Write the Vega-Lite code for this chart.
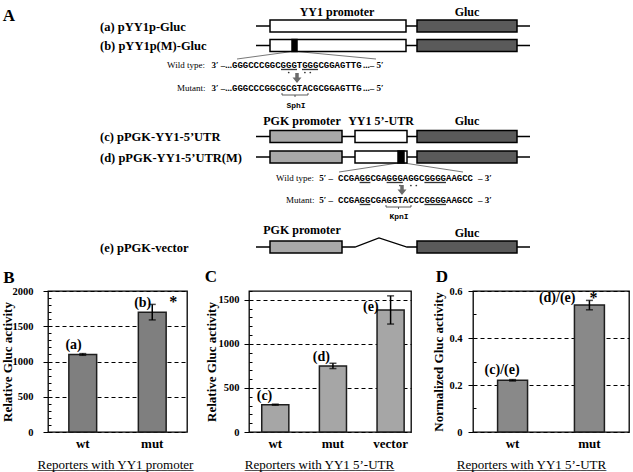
{
  "$schema": "https://vega.github.io/schema/vega-lite/v6.json",
  "background": "white",
  "padding": {"left": 0, "top": 0, "right": 0, "bottom": 0},
  "bounds": "flush",
  "spacing": 11,
  "config": {
    "font": "Liberation Serif",
    "view": {"stroke": "black", "strokeWidth": 1.3},
    "axis": {
      "labelFont": "Liberation Serif",
      "titleFont": "Liberation Serif",
      "labelColor": "black",
      "titleColor": "black",
      "labelFontWeight": "bold",
      "titleFontWeight": "bold",
      "tickColor": "black",
      "domain": false
    },
    "text": {"font": "Liberation Serif", "color": "black"}
  },
  "datasets": {
    "backbone": [
      {"construct": "a", "step": 1, "x": 256, "y": 26},
      {"construct": "a", "step": 2, "x": 530, "y": 26},
      {"construct": "b", "step": 1, "x": 256, "y": 45.5},
      {"construct": "b", "step": 2, "x": 530, "y": 45.5},
      {"construct": "c", "step": 1, "x": 256, "y": 136.5},
      {"construct": "c", "step": 2, "x": 530, "y": 136.5},
      {"construct": "d", "step": 1, "x": 256, "y": 157},
      {"construct": "d", "step": 2, "x": 530, "y": 157},
      {"construct": "e", "step": 1, "x": 256, "y": 247},
      {"construct": "e", "step": 2, "x": 355, "y": 247},
      {"construct": "e", "step": 3, "x": 379, "y": 238},
      {"construct": "e", "step": 4, "x": 407, "y": 247},
      {"construct": "e", "step": 5, "x": 530, "y": 247}
    ],
    "parts": [
      {"construct": "a", "part": "YY1 promoter", "x": 270, "x2": 406, "y": 20, "y2": 32},
      {"construct": "a", "part": "Gluc", "x": 417, "x2": 517, "y": 20, "y2": 32},
      {"construct": "b", "part": "YY1 promoter", "x": 270, "x2": 406, "y": 39.5, "y2": 51.5},
      {"construct": "b", "part": "mutation", "x": 292, "x2": 297, "y": 39.5, "y2": 51.5},
      {"construct": "b", "part": "Gluc", "x": 417, "x2": 517, "y": 39.5, "y2": 51.5},
      {"construct": "c", "part": "PGK promoter", "x": 270, "x2": 342, "y": 130.5, "y2": 142.5},
      {"construct": "c", "part": "YY1 5'-UTR", "x": 355, "x2": 407, "y": 130.5, "y2": 142.5},
      {"construct": "c", "part": "Gluc", "x": 417, "x2": 517, "y": 130.5, "y2": 142.5},
      {"construct": "d", "part": "PGK promoter", "x": 270, "x2": 342, "y": 151, "y2": 163},
      {"construct": "d", "part": "YY1 5'-UTR", "x": 355, "x2": 407, "y": 151, "y2": 163},
      {"construct": "d", "part": "mutation", "x": 398, "x2": 404, "y": 151, "y2": 163},
      {"construct": "d", "part": "Gluc", "x": 417, "x2": 517, "y": 151, "y2": 163},
      {"construct": "e", "part": "PGK promoter", "x": 270, "x2": 342, "y": 241, "y2": 253},
      {"construct": "e", "part": "Gluc", "x": 417, "x2": 517, "y": 241, "y2": 253}
    ],
    "links": [
      {"x": 292, "y": 51.5, "x2": 237, "y2": 59},
      {"x": 297, "y": 51.5, "x2": 376, "y2": 59},
      {"x": 398, "y": 163, "x2": 339, "y2": 172},
      {"x": 404, "y": 163, "x2": 463, "y2": 172}
    ],
    "motifs": [
      {"x": 281, "x2": 297, "y": 69.5},
      {"x": 302, "x2": 318, "y": 69.5},
      {"x": 359.6, "x2": 370.4, "y": 182.5},
      {"x": 386.6, "x2": 402.8, "y": 182.5},
      {"x": 424.4, "x2": 446, "y": 182.5},
      {"x": 359.6, "x2": 370.4, "y": 204.5},
      {"x": 424.4, "x2": 446, "y": 204.5}
    ],
    "changedBases": [
      {"x": 288.7, "y": 72.5},
      {"x": 304.9, "y": 72.5},
      {"x": 310.3, "y": 72.5},
      {"x": 400, "y": 185.5},
      {"x": 410.9, "y": 185.5},
      {"x": 416.3, "y": 185.5}
    ],
    "arrows": [
      {"site": "SphI", "x": 297, "y": 78},
      {"site": "KpnI", "x": 402, "y": 190}
    ],
    "brackets": [
      {"x": 282, "y": 95, "x2": 308, "y2": 95},
      {"x": 282, "y": 93, "x2": 282, "y2": 95},
      {"x": 308, "y": 93, "x2": 308, "y2": 95},
      {"x": 295, "y": 95, "x2": 295, "y2": 97},
      {"x": 386, "y": 207, "x2": 411, "y2": 207},
      {"x": 386, "y": 205, "x2": 386, "y2": 207},
      {"x": 411, "y": 205, "x2": 411, "y2": 207},
      {"x": 398.5, "y": 207, "x2": 398.5, "y2": 209}
    ],
    "texts": [
      {"kind": "panel", "text": "A", "x": 9, "y": 16},
      {"kind": "panel", "text": "B", "x": 9, "y": 278},
      {"kind": "panel", "text": "C", "x": 211, "y": 277},
      {"kind": "panel", "text": "D", "x": 442, "y": 277},
      {"kind": "construct", "text": "(a) pYY1p-Gluc", "x": 100, "y": 27},
      {"kind": "construct", "text": "(b) pYY1p(M)-Gluc", "x": 100, "y": 46},
      {"kind": "construct", "text": "(c) pPGK-YY1-5’UTR", "x": 100, "y": 137},
      {"kind": "construct", "text": "(d) pPGK-YY1-5’UTR(M)", "x": 100, "y": 158},
      {"kind": "construct", "text": "(e) pPGK-vector", "x": 100, "y": 248},
      {"kind": "header", "text": "YY1 promoter", "x": 337, "y": 12},
      {"kind": "header", "text": "Gluc", "x": 467, "y": 12},
      {"kind": "header", "text": "PGK promoter", "x": 302, "y": 121},
      {"kind": "header", "text": "YY1 5’-UTR", "x": 381, "y": 121},
      {"kind": "header", "text": "Gluc", "x": 467, "y": 121},
      {"kind": "header", "text": "PGK promoter", "x": 302, "y": 230},
      {"kind": "header", "text": "Gluc", "x": 467, "y": 233},
      {"kind": "seqlabel", "text": "Wild type:", "x": 167, "y": 65},
      {"kind": "seqlabel", "text": "Mutant:", "x": 177, "y": 88},
      {"kind": "seqlabel", "text": "Wild type:", "x": 276, "y": 178},
      {"kind": "seqlabel", "text": "Mutant:", "x": 286, "y": 200},
      {"kind": "seqpre", "text": "3′ –...", "x": 232, "y": 65},
      {"kind": "seqpre", "text": "3′ –...", "x": 232, "y": 88},
      {"kind": "seqpre", "text": "5′ –", "x": 333, "y": 178},
      {"kind": "seqpre", "text": "5′ –", "x": 333, "y": 200},
      {"kind": "seq", "text": "GGGCCCGGCGGGTGGGCGGAGTTG", "x": 232, "y": 65},
      {"kind": "seq", "text": "GGGCCCGGCGCGTACGCGGAGTTG", "x": 232, "y": 88},
      {"kind": "seq", "text": "CCGAGGCGAGGGAGGCGGGGAAGCC", "x": 338, "y": 178},
      {"kind": "seq", "text": "CCGAGGCGAGGTACCCGGGGAAGCC", "x": 338, "y": 200},
      {"kind": "seqpost", "text": "...– 5′", "x": 363, "y": 65},
      {"kind": "seqpost", "text": "...– 5′", "x": 363, "y": 88},
      {"kind": "seqpost", "text": "– 3′", "x": 478, "y": 178},
      {"kind": "seqpost", "text": "– 3′", "x": 478, "y": 200},
      {"kind": "site", "text": "SphI", "x": 296, "y": 106},
      {"kind": "site", "text": "KpnI", "x": 399, "y": 217}
    ],
    "promoterReporters": [
      {"reporter": "wt", "activity": 1100, "err": 12, "label": "(a)"},
      {"reporter": "mut", "activity": 1700, "err": 110, "label": "(b)", "sig": "*"}
    ],
    "utrReporters": [
      {"reporter": "wt", "activity": 310, "err": 6, "label": "(c)"},
      {"reporter": "mut", "activity": 750, "err": 30, "label": "(d)"},
      {"reporter": "vector", "activity": 1385, "err": 160, "label": "(e)"}
    ],
    "normalized": [
      {"reporter": "wt", "ratio": 0.22, "err": 0.003, "label": "(c)/(e)"},
      {"reporter": "mut", "ratio": 0.54, "err": 0.02, "label": "(d)/(e)", "sig": "*"}
    ]
  },
  "vconcat": [
    {
      "width": 585,
      "height": 280,
      "view": {"stroke": null},
      "encoding": {
        "x": {"field": "x", "type": "quantitative", "scale": {"domain": [48, 633], "nice": false, "zero": false}, "axis": null},
        "y": {"field": "y", "type": "quantitative", "scale": {"domain": [0, 280], "reverse": true, "nice": false, "zero": false}, "axis": null}
      },
      "layer": [
        {
          "data": {"name": "backbone"},
          "mark": {"type": "line", "color": "black", "strokeWidth": 1.3},
          "encoding": {"detail": {"field": "construct"}, "order": {"field": "step"}}
        },
        {
          "data": {"name": "links"},
          "mark": {"type": "rule", "color": "#555555", "strokeWidth": 0.8},
          "encoding": {"x2": {"field": "x2"}, "y2": {"field": "y2"}}
        },
        {
          "data": {"name": "parts"},
          "mark": {"type": "rect", "stroke": "black", "strokeWidth": 1.5},
          "encoding": {
            "x2": {"field": "x2"},
            "y2": {"field": "y2"},
            "fill": {
              "field": "part",
              "type": "nominal",
              "scale": {"domain": ["YY1 promoter", "YY1 5'-UTR", "PGK promoter", "Gluc", "mutation"], "range": ["white", "white", "#a8a8a8", "#5a5a5a", "black"]},
              "legend": null
            }
          }
        },
        {
          "data": {"name": "motifs"},
          "mark": {"type": "rule", "color": "#333333", "strokeWidth": 1.3},
          "encoding": {"x2": {"field": "x2"}}
        },
        {
          "data": {"name": "changedBases"},
          "mark": {"type": "circle", "color": "#333333", "opacity": 1, "size": 3}
        },
        {
          "data": {"name": "arrows"},
          "mark": {"type": "point", "filled": true, "color": "#6b6b6b", "opacity": 1, "size": 100, "shape": "M-0.35,-1L0.35,-1L0.35,-0.1L0.9,-0.1L0,1L-0.9,-0.1L-0.35,-0.1Z"}
        },
        {
          "data": {"name": "brackets"},
          "mark": {"type": "rule", "color": "#333333", "strokeWidth": 0.8},
          "encoding": {"x2": {"field": "x2"}, "y2": {"field": "y2"}}
        },
        {
          "data": {"name": "texts"},
          "transform": [{"filter": "datum.kind === 'panel'"}],
          "mark": {"type": "text", "fontSize": 17, "fontWeight": "bold", "align": "center", "baseline": "middle"},
          "encoding": {"text": {"field": "text"}}
        },
        {
          "data": {"name": "texts"},
          "transform": [{"filter": "datum.kind === 'construct'"}],
          "mark": {"type": "text", "fontSize": 12.5, "fontWeight": "bold", "align": "left", "baseline": "middle"},
          "encoding": {"text": {"field": "text"}}
        },
        {
          "data": {"name": "texts"},
          "transform": [{"filter": "datum.kind === 'header'"}],
          "mark": {"type": "text", "fontSize": 12, "fontWeight": "bold", "align": "center", "baseline": "middle"},
          "encoding": {"text": {"field": "text"}}
        },
        {
          "data": {"name": "texts"},
          "transform": [{"filter": "datum.kind === 'seqlabel'"}],
          "mark": {"type": "text", "fontSize": 9, "align": "left", "baseline": "middle"},
          "encoding": {"text": {"field": "text"}}
        },
        {
          "data": {"name": "texts"},
          "transform": [{"filter": "datum.kind === 'seqpre'"}],
          "mark": {"type": "text", "fontSize": 9, "fontWeight": "bold", "align": "right", "baseline": "middle"},
          "encoding": {"text": {"field": "text"}}
        },
        {
          "data": {"name": "texts"},
          "transform": [{"filter": "datum.kind === 'seqpost'"}],
          "mark": {"type": "text", "fontSize": 9, "fontWeight": "bold", "align": "left", "baseline": "middle"},
          "encoding": {"text": {"field": "text"}}
        },
        {
          "data": {"name": "texts"},
          "transform": [{"filter": "datum.kind === 'seq'"}],
          "mark": {"type": "text", "font": "Liberation Mono", "fontSize": 9, "fontWeight": "bold", "align": "left", "baseline": "middle"},
          "encoding": {"text": {"field": "text"}}
        },
        {
          "data": {"name": "texts"},
          "transform": [{"filter": "datum.kind === 'site'"}],
          "mark": {"type": "text", "font": "Liberation Mono", "fontSize": 8, "fontWeight": "bold", "align": "center", "baseline": "middle"},
          "encoding": {"text": {"field": "text"}}
        }
      ]
    },
    {
      "bounds": "flush",
      "spacing": 62,
      "hconcat": [
        {
          "width": 139,
          "height": 141,
          "data": {"name": "promoterReporters"},
          "encoding": {
            "x": {"field": "reporter", "type": "nominal", "sort": null, "scale": {"paddingInner": 0.6, "paddingOuter": 0.3}, "axis": null}
          },
          "layer": [
            {
              "mark": {"type": "bar", "fill": "#7f7f7f", "stroke": "#1e1e1e", "strokeWidth": 1.5},
              "encoding": {
                "x": {
                  "field": "reporter", "type": "nominal", "sort": null,
                  "scale": {"paddingInner": 0.6, "paddingOuter": 0.3},
                  "axis": {
                    "orient": "bottom",
                    "title": "Reporters with YY1 promoter",
                    "labelAngle": 0, "ticks": false, "labelFontSize": 13, "labelPadding": 5,
                    "titleFontWeight": "normal", "titleFontSize": 13, "titleX": 67, "titleY": 26, "titleAlign": "center", "titleBaseline": "top"
                  }
                },
                "y": {
                  "field": "activity", "type": "quantitative",
                  "scale": {"domain": [0, 2000], "nice": false},
                  "axis": {
                    "title": "Relative Gluc activity", "values": [0, 500, 1000, 1500, 2000], "format": "d",
                    "tickSize": 5, "labelPadding": 10, "labelFontSize": 10.5, "titleFontSize": 13, "titlePadding": -2,
                    "grid": true, "gridDash": [4, 3], "gridColor": "black", "gridWidth": 1.2
                  }
                }
              }
            },
            {
              "mark": {"type": "errorbar", "color": "black", "ticks": {"size": 7}, "thickness": 1.5},
              "encoding": {"y": {"field": "activity", "type": "quantitative", "axis": null}, "yError": {"field": "err"}}
            },
            {
              "mark": {"type": "text", "align": "right", "baseline": "middle", "dx": -1, "dy": -9, "fontSize": 14, "fontWeight": "bold"},
              "encoding": {
                "x": {
                  "field": "reporter", "type": "nominal", "sort": null,
                  "scale": {"paddingInner": 0.6, "paddingOuter": 0.3},
                  "axis": {
                    "orient": "bottom",
                    "title": "________________________", "labels": false, "ticks": false, "grid": false,
                    "titleFontWeight": "normal", "titleFontSize": 13, "titleX": 67, "titleY": 26, "titleAlign": "center", "titleBaseline": "top"
                  }
                },
                "y": {
                  "field": "activity", "type": "quantitative",
                  "axis": {"orient": "left", "values": [100, 200, 300, 400, 600, 700, 800, 900, 1100, 1200, 1300, 1400, 1600, 1700, 1800, 1900], "tickSize": -3, "labels": false, "grid": false, "title": null}
                },
                "text": {"field": "label"}
              }
            },
            {
              "transform": [{"filter": "isValid(datum.sig)"}],
              "mark": {"type": "text", "align": "center", "baseline": "middle", "dx": 21, "dy": -10, "fontSize": 16, "fontWeight": "bold"},
              "encoding": {"y": {"field": "activity", "type": "quantitative", "axis": null}, "text": {"field": "sig"}}
            }
          ],
          "resolve": {"axis": {"x": "independent", "y": "independent"}}
        },
        {
          "width": 162,
          "height": 141,
          "data": {"name": "utrReporters"},
          "encoding": {
            "x": {"field": "reporter", "type": "nominal", "sort": null, "scale": {"paddingInner": 0.53, "paddingOuter": 0.17, "align": 0.65}, "axis": null}
          },
          "layer": [
            {
              "mark": {"type": "bar", "fill": "#a6a6a6", "stroke": "#1e1e1e", "strokeWidth": 1.5},
              "encoding": {
                "x": {
                  "field": "reporter", "type": "nominal", "sort": null,
                  "scale": {"paddingInner": 0.53, "paddingOuter": 0.17, "align": 0.65},
                  "axis": {
                    "orient": "bottom",
                    "title": "Reporters with YY1 5’-UTR",
                    "labelAngle": 0, "ticks": false, "labelFontSize": 13, "labelPadding": 5,
                    "titleFontWeight": "normal", "titleFontSize": 13, "titleX": 70, "titleY": 26, "titleAlign": "center", "titleBaseline": "top"
                  }
                },
                "y": {
                  "field": "activity", "type": "quantitative",
                  "scale": {"domain": [0, 1600], "nice": false},
                  "axis": {
                    "title": "Relative Gluc activity", "values": [0, 500, 1000, 1500], "format": "d",
                    "tickSize": 5, "labelPadding": 5, "labelFontSize": 10.5, "titleFontSize": 13, "titlePadding": 0,
                    "grid": true, "gridDash": [4, 3], "gridColor": "black", "gridWidth": 1.2
                  }
                }
              }
            },
            {
              "mark": {"type": "errorbar", "color": "black", "ticks": {"size": 7}, "thickness": 1.5},
              "encoding": {"y": {"field": "activity", "type": "quantitative", "axis": null}, "yError": {"field": "err"}}
            },
            {
              "transform": [{"filter": "datum.reporter !== 'vector'"}],
              "mark": {"type": "text", "align": "right", "baseline": "middle", "dx": -3, "dy": -9, "fontSize": 14, "fontWeight": "bold"},
              "encoding": {
                "x": {
                  "field": "reporter", "type": "nominal", "sort": null,
                  "scale": {"paddingInner": 0.53, "paddingOuter": 0.17, "align": 0.65},
                  "axis": {
                    "orient": "bottom",
                    "title": "_______________________", "labels": false, "ticks": false, "grid": false,
                    "titleFontWeight": "normal", "titleFontSize": 13, "titleX": 70, "titleY": 26, "titleAlign": "center", "titleBaseline": "top"
                  }
                },
                "y": {
                  "field": "activity", "type": "quantitative",
                  "axis": {"orient": "left", "values": [100, 200, 300, 400, 600, 700, 800, 900, 1100, 1200, 1300, 1400, 1600], "tickSize": -3, "labels": false, "grid": false, "title": null}
                },
                "text": {"field": "label"}
              }
            },
            {
              "transform": [{"filter": "datum.reporter === 'vector'"}],
              "mark": {"type": "text", "align": "right", "baseline": "middle", "dx": -12, "dy": -3, "fontSize": 14, "fontWeight": "bold"},
              "encoding": {"y": {"field": "activity", "type": "quantitative", "axis": null}, "text": {"field": "label"}}
            }
          ],
          "resolve": {"axis": {"x": "independent", "y": "independent"}}
        },
        {
          "width": 156,
          "height": 141,
          "data": {"name": "normalized"},
          "encoding": {
            "x": {"field": "reporter", "type": "nominal", "sort": null, "scale": {"paddingInner": 0.61, "paddingOuter": 0.32}, "axis": null}
          },
          "layer": [
            {
              "mark": {"type": "bar", "fill": "#898989", "stroke": "#1e1e1e", "strokeWidth": 1.5},
              "encoding": {
                "x": {
                  "field": "reporter", "type": "nominal", "sort": null,
                  "scale": {"paddingInner": 0.61, "paddingOuter": 0.32},
                  "axis": {
                    "orient": "bottom",
                    "title": "Reporters with YY1 5’-UTR",
                    "labelAngle": 0, "ticks": false, "labelFontSize": 13, "labelPadding": 5,
                    "titleFontWeight": "normal", "titleFontSize": 13, "titleX": 58, "titleY": 26, "titleAlign": "center", "titleBaseline": "top"
                  }
                },
                "y": {
                  "field": "ratio", "type": "quantitative",
                  "scale": {"domain": [0, 0.6], "nice": false},
                  "axis": {
                    "title": "Normalized Gluc activity", "values": [0, 0.2, 0.4, 0.6],
                    "labelExpr": "datum.value === 0 ? '0' : format(datum.value, '.1f')",
                    "tickSize": 5, "labelPadding": 6, "labelFontSize": 10.5, "titleFontSize": 13, "titlePadding": 3,
                    "grid": true, "gridDash": [4, 3], "gridColor": "black", "gridWidth": 1.2
                  }
                }
              }
            },
            {
              "mark": {"type": "errorbar", "color": "black", "ticks": {"size": 7}, "thickness": 1.5},
              "encoding": {"y": {"field": "ratio", "type": "quantitative", "axis": null}, "yError": {"field": "err"}}
            },
            {
              "transform": [{"filter": "datum.reporter === 'wt'"}],
              "mark": {"type": "text", "align": "right", "baseline": "middle", "dx": 7, "dy": -10, "fontSize": 14, "fontWeight": "bold"},
              "encoding": {
                "x": {
                  "field": "reporter", "type": "nominal", "sort": null,
                  "scale": {"paddingInner": 0.61, "paddingOuter": 0.32},
                  "axis": {
                    "orient": "bottom",
                    "title": "_______________________", "labels": false, "ticks": false, "grid": false,
                    "titleFontWeight": "normal", "titleFontSize": 13, "titleX": 58, "titleY": 26, "titleAlign": "center", "titleBaseline": "top"
                  }
                },
                "y": {
                  "field": "ratio", "type": "quantitative",
                  "axis": {"orient": "left", "values": [0.1, 0.3, 0.5], "tickSize": -3, "labels": false, "grid": false, "title": null}
                },
                "text": {"field": "label"}
              }
            },
            {
              "transform": [{"filter": "datum.reporter === 'mut'"}],
              "mark": {"type": "text", "align": "right", "baseline": "middle", "dx": -14, "dy": -7, "fontSize": 14, "fontWeight": "bold"},
              "encoding": {"y": {"field": "ratio", "type": "quantitative", "axis": null}, "text": {"field": "label"}}
            },
            {
              "transform": [{"filter": "isValid(datum.sig)"}],
              "mark": {"type": "text", "align": "center", "baseline": "middle", "dx": 4, "dy": -7, "fontSize": 16, "fontWeight": "bold"},
              "encoding": {"y": {"field": "ratio", "type": "quantitative", "axis": null}, "text": {"field": "sig"}}
            }
          ],
          "resolve": {"axis": {"x": "independent", "y": "independent"}}
        }
      ]
    }
  ]
}
